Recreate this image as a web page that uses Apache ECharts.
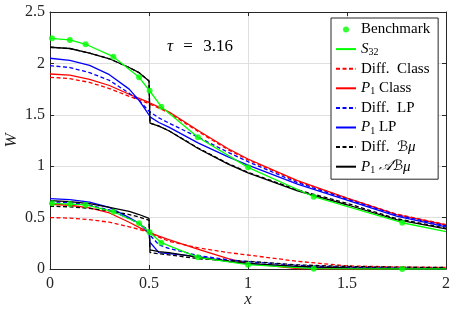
<!DOCTYPE html>
<html>
<head>
<meta charset="utf-8">
<script src="https://cdn.jsdelivr.net/npm/echarts@6/dist/echarts.min.js"></script>
<style>
html,body{margin:0;padding:0;background:#fff;}
#chart{width:452px;height:310px;}
</style>
</head>
<body>
<div id="chart"></div>
<script>
// ---- data ----
const xTicks = ['0', '0.5', '1', '1.5', '2'];
const yTicks = ['0', '0.5', '1', '1.5', '2', '2.5'];
const xGrid = [0, 0.1, 0.2, 0.3, 0.4, 0.45, 0.5, 0.505, 0.55, 0.6, 0.75, 0.9, 1.0, 1.25, 1.5, 1.75, 2.0];

// upper family
const diffClassUp = [1.865, 1.852, 1.815, 1.755, 1.68, 1.645, 1.608, 1.604, 1.565, 1.52, 1.335, 1.16, 1.062, 0.852, 0.688, 0.535, 0.432];
const p1ClassUp   = [1.897, 1.885, 1.845, 1.785, 1.70, 1.66, 1.62, 1.615, 1.575, 1.53, 1.345, 1.17, 1.07, 0.86, 0.69, 0.53, 0.428];
const diffLPUp    = [1.978, 1.96, 1.91, 1.835, 1.71, 1.64, 1.535, 1.525, 1.47, 1.42, 1.28, 1.135, 1.044, 0.84, 0.68, 0.525, 0.42];
const p1LPUp      = [2.05, 2.03, 1.98, 1.89, 1.75, 1.64, 1.50, 1.48, 1.425, 1.38, 1.225, 1.09, 1.01, 0.825, 0.671, 0.515, 0.41];
const diffBmuUp   = [2.157, 2.145, 2.10, 2.045, 1.96, 1.91, 1.83, 1.42, 1.39, 1.345, 1.175, 1.025, 0.94, 0.77, 0.639, 0.49, 0.396];
const p1ABmuUp    = [2.157, 2.145, 2.10, 2.045, 1.96, 1.91, 1.83, 1.42, 1.39, 1.345, 1.17, 1.02, 0.935, 0.76, 0.625, 0.48, 0.39];

// lower family
const diffClassLo = [0.50, 0.495, 0.48, 0.455, 0.41, 0.385, 0.357, 0.354, 0.31, 0.27, 0.205, 0.16, 0.136, 0.075, 0.03, 0.02, 0.015];
const p1ClassLo   = [0.63, 0.62, 0.595, 0.545, 0.455, 0.405, 0.357, 0.352, 0.32, 0.285, 0.19, 0.10, 0.055, 0.005, 0, 0, 0];
const diffLPLo    = [0.655, 0.645, 0.62, 0.575, 0.49, 0.44, 0.375, 0.33, 0.235, 0.2, 0.13, 0.09, 0.071, 0.035, 0.018, 0.008, 0.004];
const p1LPLo      = [0.685, 0.675, 0.65, 0.6, 0.5, 0.445, 0.35, 0.26, 0.16, 0.15, 0.12, 0.075, 0.05, 0.02, 0.008, 0.003, 0.001];
const diffBmuLo   = [0.61, 0.605, 0.59, 0.565, 0.53, 0.505, 0.475, 0.16, 0.148, 0.138, 0.1, 0.082, 0.075, 0.04, 0.025, 0.018, 0.015];
const p1ABmuLo    = [0.665, 0.655, 0.635, 0.6, 0.56, 0.53, 0.493, 0.185, 0.17, 0.16, 0.114, 0.075, 0.055, 0.025, 0.01, 0.004, 0.002];

// benchmark markers and S32 line
const benchX  = [0.01, 0.1, 0.18, 0.32, 0.45, 0.503, 0.562, 0.747, 1.0, 1.332, 1.779];
const benchUp = [2.244, 2.228, 2.186, 2.065, 1.865, 1.734, 1.579, 1.281, 0.989, 0.703, 0.45];
const benchLo = [0.639, 0.632, 0.623, 0.557, 0.445, 0.357, 0.256, 0.114, 0.042, 0.003, 0.0];
const s32X    = [0, 0.1, 0.18, 0.32, 0.45, 0.503, 0.562, 0.747, 1.0, 1.332, 1.779, 2.0];
const s32Up   = [2.244, 2.228, 2.186, 2.065, 1.865, 1.734, 1.579, 1.281, 0.989, 0.703, 0.45, 0.363];
const s32Lo   = [0.639, 0.632, 0.623, 0.557, 0.445, 0.357, 0.256, 0.114, 0.042, 0.003, 0.0, 0.0];

const names = ['Benchmark', 'S32', 'Diff. Class', 'P1 Class', 'Diff. LP', 'P1 LP', 'Diff. Bmu', 'P1 ABmu'];
const legendLabels = {
  'Benchmark': 'Benchmark',
  'S32': '{i|S}{sub|32}',
  'Diff. Class': 'Diff.  Class',
  'P1 Class': '{i|P}{sub|1} Class',
  'Diff. LP': 'Diff.  LP',
  'P1 LP': '{i|P}{sub|1} LP',
  'Diff. Bmu': 'Diff.  {cal|\u212C}{i|\u03BC}',
  'P1 ABmu': '{i|P}{sub|1} {cal|\uD835\uDC9C\u212C}{i|\u03BC}'
};

// ---- chart ----
const FONT = "'Liberation Serif', 'DejaVu Serif', serif";
const pairs = (xs, ys) => xs.map((x, i) => [x, ys[i]]);

function lineSeries(name, xs, ys, color, dashed) {
  return {
    name: name, type: 'line', data: pairs(xs, ys),
    symbol: 'none', smooth: false,
    lineStyle: { color: color, width: 1.3, type: dashed ? [4, 2.5] : 'solid' },
    itemStyle: { color: color },
    animation: false, z: 2
  };
}

const series = [
  lineSeries('Diff. Class', xGrid, diffClassUp, '#ff0000', true),
  lineSeries('Diff. Class', xGrid, diffClassLo, '#ff0000', true),
  lineSeries('P1 Class', xGrid, p1ClassUp, '#ff0000', false),
  lineSeries('P1 Class', xGrid, p1ClassLo, '#ff0000', false),
  lineSeries('Diff. LP', xGrid, diffLPUp, '#0000ff', true),
  lineSeries('Diff. LP', xGrid, diffLPLo, '#0000ff', true),
  lineSeries('P1 LP', xGrid, p1LPUp, '#0000ff', false),
  lineSeries('P1 LP', xGrid, p1LPLo, '#0000ff', false),
  lineSeries('Diff. Bmu', xGrid, diffBmuUp, '#000000', true),
  lineSeries('Diff. Bmu', xGrid, diffBmuLo, '#000000', true),
  lineSeries('P1 ABmu', xGrid, p1ABmuUp, '#000000', false),
  lineSeries('P1 ABmu', xGrid, p1ABmuLo, '#000000', false),
  lineSeries('S32', s32X, s32Up, '#00ff00', false),
  lineSeries('S32', s32X, s32Lo, '#00ff00', false),
  { name: 'Benchmark', type: 'scatter', data: pairs(benchX, benchUp), symbol: 'circle', symbolSize: 6,
    itemStyle: { color: '#00ff00' }, z: 3, animation: false },
  { name: 'Benchmark', type: 'scatter', data: pairs(benchX, benchLo), symbol: 'circle', symbolSize: 6,
    itemStyle: { color: '#00ff00' }, z: 3, animation: false }
];

const dotIcon = 'path://M0,0M20,14M13,7A3,3,0,1,1,7,7A3,3,0,1,1,13,7Z';

const axisCommon = {
  axisLine: { show: true, onZero: false, lineStyle: { color: '#262626', width: 1 } },
  axisTick: { show: true, inside: true, length: 4, lineStyle: { color: '#262626', width: 1 } }
};

const option = {
  animation: false,
  backgroundColor: '#ffffff',
  grid: { left: 50, right: 6, top: 12, bottom: 41, containLabel: false, outerBoundsMode: 'none' },
  title: {
    text: '{i|\u03C4} {eq|=} 3.16', left: 167, top: 38, padding: 0,
    textStyle: { fontFamily: FONT, fontSize: 17, fontWeight: 'normal', color: '#000',
      rich: {
        i: { fontFamily: FONT, fontSize: 17, fontStyle: 'italic', color: '#000' },
        eq: { fontFamily: FONT, fontSize: 17, color: '#000', padding: [0, 6, 0, 6] }
      } }
  },
  legend: {
    orient: 'vertical', left: 331, top: 18,
    data: names.map(n => n === 'Benchmark' ? { name: n, icon: dotIcon } : { name: n, itemStyle: { opacity: 0 } }),
    backgroundColor: '#ffffff', borderColor: '#262626', borderWidth: 1, borderRadius: 0,
    padding: [3, 8, 4, 4],
    itemWidth: 20, itemHeight: 14, itemGap: 2.6,
    selectedMode: false,
    formatter: n => legendLabels[n],
    textStyle: {
      fontFamily: FONT, fontSize: 15, lineHeight: 17, color: '#000',
      rich: {
        i: { fontFamily: FONT, fontSize: 15, lineHeight: 17, fontStyle: 'italic', color: '#000' },
        sub: { fontFamily: FONT, fontSize: 10, lineHeight: 10, verticalAlign: 'bottom', color: '#000' },
        cal: { fontFamily: "'DejaVu Sans', 'Noto Sans', serif", fontSize: 14, lineHeight: 17, fontStyle: 'italic', color: '#000' }
      }
    }
  },
  xAxis: [
    Object.assign({
      type: 'value', min: 0, max: 2, interval: 0.5, position: 'bottom',
      name: 'x', nameLocation: 'middle', nameGap: 22, nameMoveOverlap: false,
      nameTextStyle: { fontFamily: FONT, fontSize: 17, fontStyle: 'italic', color: '#262626' },
      axisLabel: { fontFamily: FONT, fontSize: 16, color: '#262626', margin: 7,
        formatter: v => xTicks[Math.round(v / 0.5)] },
      splitLine: { show: true, lineStyle: { color: '#dfdfdf', width: 1 } }
    }, axisCommon),
    Object.assign({
      type: 'value', min: 0, max: 2, interval: 0.5, position: 'top',
      axisLabel: { show: false }, splitLine: { show: false }
    }, axisCommon)
  ],
  yAxis: [
    Object.assign({
      type: 'value', min: 0, max: 2.5, interval: 0.5, position: 'left',
      name: 'W', nameLocation: 'middle', nameGap: 30, nameRotate: 90, nameMoveOverlap: false,
      nameTextStyle: { fontFamily: FONT, fontSize: 17, fontStyle: 'italic', color: '#262626' },
      axisLabel: { fontFamily: FONT, fontSize: 16, color: '#262626', margin: 5,
        formatter: v => yTicks[Math.round(v / 0.5)] },
      splitLine: { show: true, lineStyle: { color: '#dfdfdf', width: 1 } }
    }, axisCommon),
    Object.assign({
      type: 'value', min: 0, max: 2.5, interval: 0.5, position: 'right',
      axisLabel: { show: false }, splitLine: { show: false }
    }, axisCommon)
  ],
  series: series
};

const chart = echarts.init(document.getElementById('chart'), null, { renderer: 'canvas' });
chart.setOption(option);
</script>
</body>
</html>
